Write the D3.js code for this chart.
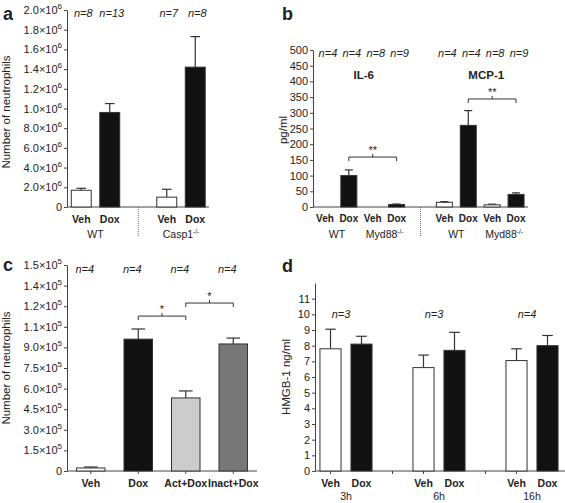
<!DOCTYPE html>
<html><head><meta charset="utf-8">
<script src="https://cdn.jsdelivr.net/npm/d3@7"></script>
<style>
body{margin:0;background:#fff;}
text{font-family:"Liberation Sans",Arial,sans-serif;fill:#222;}
</style></head>
<body><svg id="c" width="565" height="503"></svg>
<script>
// ---------- Panel a ----------
const aSlots = [0,1,2,3,4];
const aBarSlots = [0,1,3,4];
const aLabels = ["Veh","Dox","Veh","Dox"];
const aMeans = [1.7e5, 9.6e5, 1.0e5, 1.42e6];
const aErrTop = [1.9e5, 1.05e6, 1.8e5, 1.73e6];
const aFills = ["#fff","#111","#fff","#111"];
const aN = ["n=8","n=13","n=7","n=8"];
const aGroups = [{name:"WT",sup:"",slots:[0,1]},{name:"Casp1",sup:"-/-",slots:[3,4]}];
const aTickVals = [0,2e5,4e5,6e5,8e5,1e6,1.2e6,1.4e6,1.6e6,1.8e6,2e6];
const aTickMant = ["0","2.0","4.0","6.0","8.0","1.0","1.2","1.4","1.6","1.8","2.0"];
const aTickExp = "6";

// ---------- Panel b ----------
const bSlots = [0,1,2,3,4,5,6,7,8];
const bBarSlots = [0,1,2,3,5,6,7,8];
const bLabels = ["Veh","Dox","Veh","Dox","Veh","Dox","Veh","Dox"];
const bMeans = [0,100,0,8, 15,260,7,40];
const bErrTop = [0,118,0,9.5, 17,307,9,45];
const bFills = ["#fff","#111","#fff","#111","#fff","#111","#fff","#111"];
const bN = ["n=4","n=4","n=8","n=9","n=4","n=4","n=8","n=9"];
const bGroups = [{name:"WT",sup:"",slots:[0,1]},{name:"Myd88",sup:"-/-",slots:[2,3]},
                 {name:"WT",sup:"",slots:[5,6]},{name:"Myd88",sup:"-/-",slots:[7,8]}];
const bTitles = [{name:"IL-6",slots:[1,2]},{name:"MCP-1",slots:[6,7]}];
const bBrackets = [{from:1,to:3,level:159,mark:"**"},{from:6,to:8,level:344,mark:"**"}];
const bTickVals = [0,50,100,150,200,250,300,350,400,450,500];

// ---------- Panel c ----------
const cSlots = [0,1,2,3];
const cLabels = ["Veh","Dox","Act+Dox","Inact+Dox"];
const cMeans = [2.2e4, 9.6e5, 5.32e5, 9.25e5];
const cErrTop = [2.9e4, 1.034e6, 5.83e5, 9.68e5];
const cFills = ["#fff","#111","#ccc","#777"];
const cN = ["n=4","n=4","n=4","n=4"];
const cBrackets = [{from:1,to:2,level:1.128e6,mark:"*"},{from:2,to:3,level:1.223e6,mark:"*"}];
const cTickVals = [0,1.5e5,3e5,4.5e5,6e5,7.5e5,9e5,1.05e6,1.2e6,1.35e6,1.5e6];
const cTickMant = ["0","1.5","3.0","4.5","6.0","7.5","9.0","1.1","1.2","1.4","1.5"];
const cTickExp = "5";

// ---------- Panel d ----------
const dSlots = [0,1,2,3,4,5,6,7];
const dBarSlots = [0,1,3,4,6,7];
const dLabels = ["Veh","Dox","Veh","Dox","Veh","Dox"];
const dMeans = [7.8,8.1,6.6,7.7,7.05,8.0];
const dErrTop = [9.05,8.6,7.4,8.85,7.8,8.65];
const dFills = ["#fff","#111","#fff","#111","#fff","#111"];
const dGroups = [{name:"3h",n:"n=3",slots:[0,1]},{name:"6h",n:"n=3",slots:[3,4]},{name:"16h",n:"n=4",slots:[6,7]}];
const dTickSlots = [0,2,3,5,6];
const dTickVals = [0,1,2,3,4,5,6,7,8,9,10,11];

const svg = d3.select("#c");
const AX = "#444";

function yAxis(g, y, vals, mant, exp, x0){
  const ax = d3.axisLeft(y).tickValues(vals).tickSize(3).tickSizeOuter(0).tickPadding(2)
    .tickFormat((d,i)=> mant ? mant[i] : d);
  const sel = g.append("g").attr("transform",`translate(${x0},0)`).call(ax);
  sel.select(".domain").attr("stroke",AX);
  sel.selectAll(".tick line").attr("stroke",AX);
  sel.selectAll(".tick text").attr("font-size",11).attr("fill","#222")
    .attr("font-family","Liberation Sans, Arial, sans-serif");
  if(mant){
    sel.selectAll(".tick text").each(function(d,i){
      if(mant[i]==="0") return;
      const t = d3.select(this);
      t.text(mant[i]+"\u00d710");
      t.append("tspan").attr("font-size",8).attr("dy",-5).text(exp);
    });
  }
  return sel;
}
function yTitle(g, text, cx, cy){
  g.append("text").attr("transform",`translate(${cx},${cy}) rotate(-90)`)
   .attr("text-anchor","middle").attr("font-size",11.5).text(text);
}
function letter(t,x,y){
  svg.append("text").attr("x",x).attr("y",y).attr("font-size",18).attr("font-weight","bold").text(t);
}
function bars(g, x, y, slots, means, tops, fills, wFrac, capFrac){
  const bw = x.step()*wFrac;
  slots.forEach((s,i)=>{
    const cx = x(s)+x.bandwidth()/2;
    if(tops[i] > means[i]){
      g.append("line").attr("x1",cx).attr("x2",cx).attr("y1",y(means[i])).attr("y2",y(tops[i]))
        .attr("stroke","#333").attr("stroke-width",1.2);
      g.append("line").attr("x1",cx-bw*capFrac/2).attr("x2",cx+bw*capFrac/2)
        .attr("y1",y(tops[i])).attr("y2",y(tops[i])).attr("stroke","#333").attr("stroke-width",1.2);
    }
    if(means[i] > 0){
      g.append("rect").attr("x",cx-bw/2).attr("width",bw).attr("y",y(means[i]))
        .attr("height",y(0)-y(means[i])).attr("fill",fills[i]).attr("stroke","#333").attr("stroke-width",1);
    }
  });
}
function groupLabel(g, x, grp, yy){
  const cx = (x(grp.slots[0])+x(grp.slots[grp.slots.length-1]))/2 + x.bandwidth()/2;
  const t = g.append("text").attr("x",cx).attr("y",yy).attr("text-anchor","middle").attr("font-size",10.5).text(grp.name);
  if(grp.sup) t.append("tspan").attr("font-size",6.5).attr("dy",-4).text(grp.sup);
}
function bracket(g, x, y, br){
  const x1 = x(br.from)+x.bandwidth()/2, x2 = x(br.to)+x.bandwidth()/2, yy = y(br.level);
  g.append("path").attr("d",`M${x1},${yy+4}V${yy}H${x2}V${yy+4}M${(x1+x2)/2},${yy}V${yy-3}`)
   .attr("fill","none").attr("stroke","#333").attr("stroke-width",1);
  g.append("text").attr("x",(x1+x2)/2).attr("y",yy-3).attr("text-anchor","middle").attr("font-size",11).text(br.mark);
}

// ===== Panel a =====
{
  const g = svg.append("g");
  const y = d3.scaleLinear().domain([0,2e6]).range([207,10]);
  const x = d3.scaleBand().domain(aSlots).range([67,209.5]).padding(0);
  yAxis(g,y,aTickVals,aTickMant,aTickExp,67);
  g.append("line").attr("x1",67).attr("x2",209).attr("y1",207).attr("y2",207).attr("stroke",AX);
  bars(g,x,y,aBarSlots,aMeans,aErrTop,aFills,0.7,0.48);
  aBarSlots.forEach((s,i)=>{
    const cx = x(s)+x.bandwidth()/2;
    g.append("text").attr("x",cx).attr("y",223).attr("text-anchor","middle").attr("font-size",10.5).attr("font-weight","bold").text(aLabels[i]);
    g.append("text").attr("x",cx+2).attr("y",17).attr("text-anchor","middle").attr("font-size",11).attr("font-style","italic").text(aN[i]);
  });
  aGroups.forEach(gr=>groupLabel(g,x,gr,238));
  const sx = x(2)+x.bandwidth()/2;
  g.append("line").attr("x1",sx).attr("x2",sx).attr("y1",207).attr("y2",237).attr("stroke","#666").attr("stroke-dasharray","1,1");
  yTitle(g,"Number of neutrophils",10,112);
  letter("a",3,20);
}
// ===== Panel b =====
{
  const g = svg.append("g");
  const y = d3.scaleLinear().domain([0,500]).range([207,50]);
  const x = d3.scaleBand().domain(bSlots).range([313,528]).padding(0);
  yAxis(g,y,bTickVals,null,null,313);
  g.append("line").attr("x1",313).attr("x2",528).attr("y1",207).attr("y2",207).attr("stroke",AX);
  bars(g,x,y,bBarSlots,bMeans,bErrTop,bFills,0.67,0.5);
  bBarSlots.forEach((s,i)=>{
    const cx = x(s)+x.bandwidth()/2;
    g.append("text").attr("x",cx).attr("y",222).attr("text-anchor","middle").attr("font-size",10).attr("font-weight","bold").text(bLabels[i]);
    g.append("text").attr("x",cx+3).attr("y",57).attr("text-anchor","middle").attr("font-size",11).attr("font-style","italic").text(bN[i]);
  });
  bGroups.forEach(gr=>groupLabel(g,x,gr,237.5));
  bTitles.forEach((t,i)=>{
    const cx = (x(t.slots[0])+x(t.slots[1]))/2 + x.bandwidth()/2 + (i?6:3);
    g.append("text").attr("x",cx).attr("y",79).attr("text-anchor","middle").attr("font-size",11.5).attr("font-weight","bold").text(t.name);
  });
  bBrackets.forEach(br=>bracket(g,x,y,br));
  const sx = x(4)+x.bandwidth()/2;
  g.append("line").attr("x1",sx).attr("x2",sx).attr("y1",207).attr("y2",237).attr("stroke","#666").attr("stroke-dasharray","1,1");
  yTitle(g,"pg/ml",287,130);
  letter("b",282,20);
}
// ===== Panel c =====
{
  const g = svg.append("g");
  const y = d3.scaleLinear().domain([0,1.5e6]).range([471,265]);
  const x = d3.scaleBand().domain(cSlots).range([67,257]).padding(0);
  yAxis(g,y,cTickVals,cTickMant,cTickExp,67);
  g.append("line").attr("x1",67).attr("x2",257).attr("y1",471).attr("y2",471).attr("stroke",AX);
  cSlots.forEach(s=>{
    const cx = x(s)+x.bandwidth()/2;
    g.append("line").attr("x1",cx).attr("x2",cx).attr("y1",471).attr("y2",474).attr("stroke",AX);
  });
  bars(g,x,y,cSlots,cMeans,cErrTop,cFills,0.6,0.48);
  cSlots.forEach((s,i)=>{
    const cx = x(s)+x.bandwidth()/2;
    g.append("text").attr("x",cx).attr("y",487).attr("text-anchor","middle").attr("font-size",10.5).attr("font-weight","bold").text(cLabels[i]);
    g.append("text").attr("x",cx-6).attr("y",273).attr("text-anchor","middle").attr("font-size",11).attr("font-style","italic").text(cN[i]);
  });
  cBrackets.forEach(br=>bracket(g,x,y,br));
  yTitle(g,"Number of neutrophils",10,368);
  letter("c",3,271);
}
// ===== Panel d =====
{
  const g = svg.append("g");
  const y = d3.scaleLinear().domain([0,12]).range([471,283]);
  const x = d3.scaleBand().domain(dSlots).range([315,563]).padding(0);
  yAxis(g,y,dTickVals,null,null,315);
  g.append("line").attr("x1",315).attr("x2",565).attr("y1",471).attr("y2",471).attr("stroke",AX);
  dTickSlots.forEach(s=>{
    const cx = x(s)+x.bandwidth()/2;
    g.append("line").attr("x1",cx).attr("x2",cx).attr("y1",471).attr("y2",474).attr("stroke",AX);
  });
  bars(g,x,y,dBarSlots,dMeans,dErrTop,dFills,0.68,0.5);
  dBarSlots.forEach((s,i)=>{
    const cx = x(s)+x.bandwidth()/2;
    g.append("text").attr("x",cx).attr("y",487).attr("text-anchor","middle").attr("font-size",10.5).attr("font-weight","bold").text(dLabels[i]);
  });
  dGroups.forEach(gr=>{
    const cx = (x(gr.slots[0])+x(gr.slots[1]))/2 + x.bandwidth()/2;
    g.append("text").attr("x",cx).attr("y",500).attr("text-anchor","middle").attr("font-size",10.5).text(gr.name);
    g.append("text").attr("x",cx-5).attr("y",y(10)+4).attr("text-anchor","middle").attr("font-size",11).attr("font-style","italic").text(gr.n);
  });
  yTitle(g,"HMGB-1 ng/ml",290,377);
  letter("d",282,272);
}
</script></body></html>
